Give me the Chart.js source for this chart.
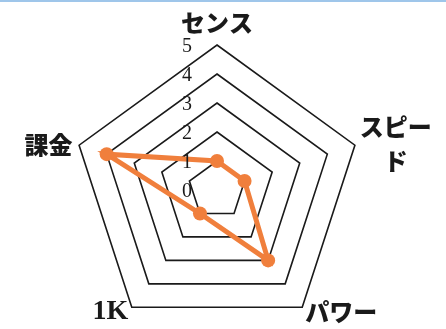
<!DOCTYPE html>
<html><head><meta charset="utf-8">
<script src="https://cdn.jsdelivr.net/npm/chart.js@4"></script>
<style>
html,body{margin:0;padding:0;background:#fff;}
body{width:446px;height:329px;overflow:hidden;position:relative;}
#topline{position:absolute;left:0;top:0;width:446px;height:2px;background:#9fc6ea;}
#wrap{position:absolute;left:0;top:0;width:446px;height:329px;}
</style></head><body>
<div id="wrap"><canvas id="c" width="446" height="329"></canvas></div>
<div id="topline"></div>
<script>
const categories = ['センス', 'スピード', 'パワー', '1K', '課金'];
const values = [1, 1, 3, 1, 4];
const tickLabels = ['0', '1', '2', '3', '4', '5'];

const CX = 217, CY = 190, RAD = 145;
const LABEL_PAD = [5, 5, 5, 6, 7];
const LABEL_DY = [0, 35, -17, -17, 19];
const ORANGE = '#f07f3c';
const INK = '#1a1a1a';

const tickLabelPlugin = {
  id: 'tickLabelPlugin',
  afterDatasetsDraw(chart) {
    const s = chart.scales.r;
    const ctx = chart.ctx;
    ctx.save();
    ctx.font = '20px "Liberation Serif"';
    ctx.fillStyle = INK;
    ctx.textAlign = 'center';
    ctx.textBaseline = 'middle';
    s.ticks.forEach((t, i) => {
      const d = s.getDistanceFromCenterForValue(t.value);
      ctx.fillText(tickLabels[i], s.xCenter - 30, s.yCenter - d + 2);
    });
    ctx.restore();
  }
};

new Chart(document.getElementById('c'), {
  type: 'radar',
  data: {
    labels: categories,
    datasets: [{
      data: values,
      borderColor: ORANGE,
      backgroundColor: ORANGE,
      borderWidth: 5,
      fill: false,
      tension: 0,
      pointRadius: 7,
      pointBackgroundColor: ORANGE,
      pointBorderColor: ORANGE,
      pointBorderWidth: 0
    }]
  },
  options: {
    responsive: false,
    animation: false,
    devicePixelRatio: 1,
    layout: { padding: 0 },
    plugins: { legend: { display: false }, tooltip: { enabled: false } },
    scales: {
      r: {
        min: 0, max: 5,
        ticks: { stepSize: 1, display: false },
        grid: { color: INK, lineWidth: 1.6 },
        angleLines: { display: false },
        pointLabels: {
          color: INK,
          padding: (c) => LABEL_PAD[c.index],
          font: (c) => c.index === 3
            ? { family: '"Liberation Serif"', weight: 'bold', size: 28, lineHeight: 1.2 }
            : { family: '"Noto Sans CJK JP"', weight: 900, size: 24, lineHeight: 1.45 },
          callback: (label) => label === 'スピード' ? ['スピー', '\u3000ド'] : label
        },
        beforeFit(scale) {
          scale.setCenterPoint = function () {
            this.xCenter = CX; this.yCenter = CY; this.drawingArea = RAD;
          };
        },
        afterFit(scale) {
          (scale._pointLabelItems || []).forEach((it, i) => {
            it.y += LABEL_DY[i]; it.top += LABEL_DY[i]; it.bottom += LABEL_DY[i];
          });
        }
      }
    }
  },
  plugins: [tickLabelPlugin]
});
</script>
</body></html>
